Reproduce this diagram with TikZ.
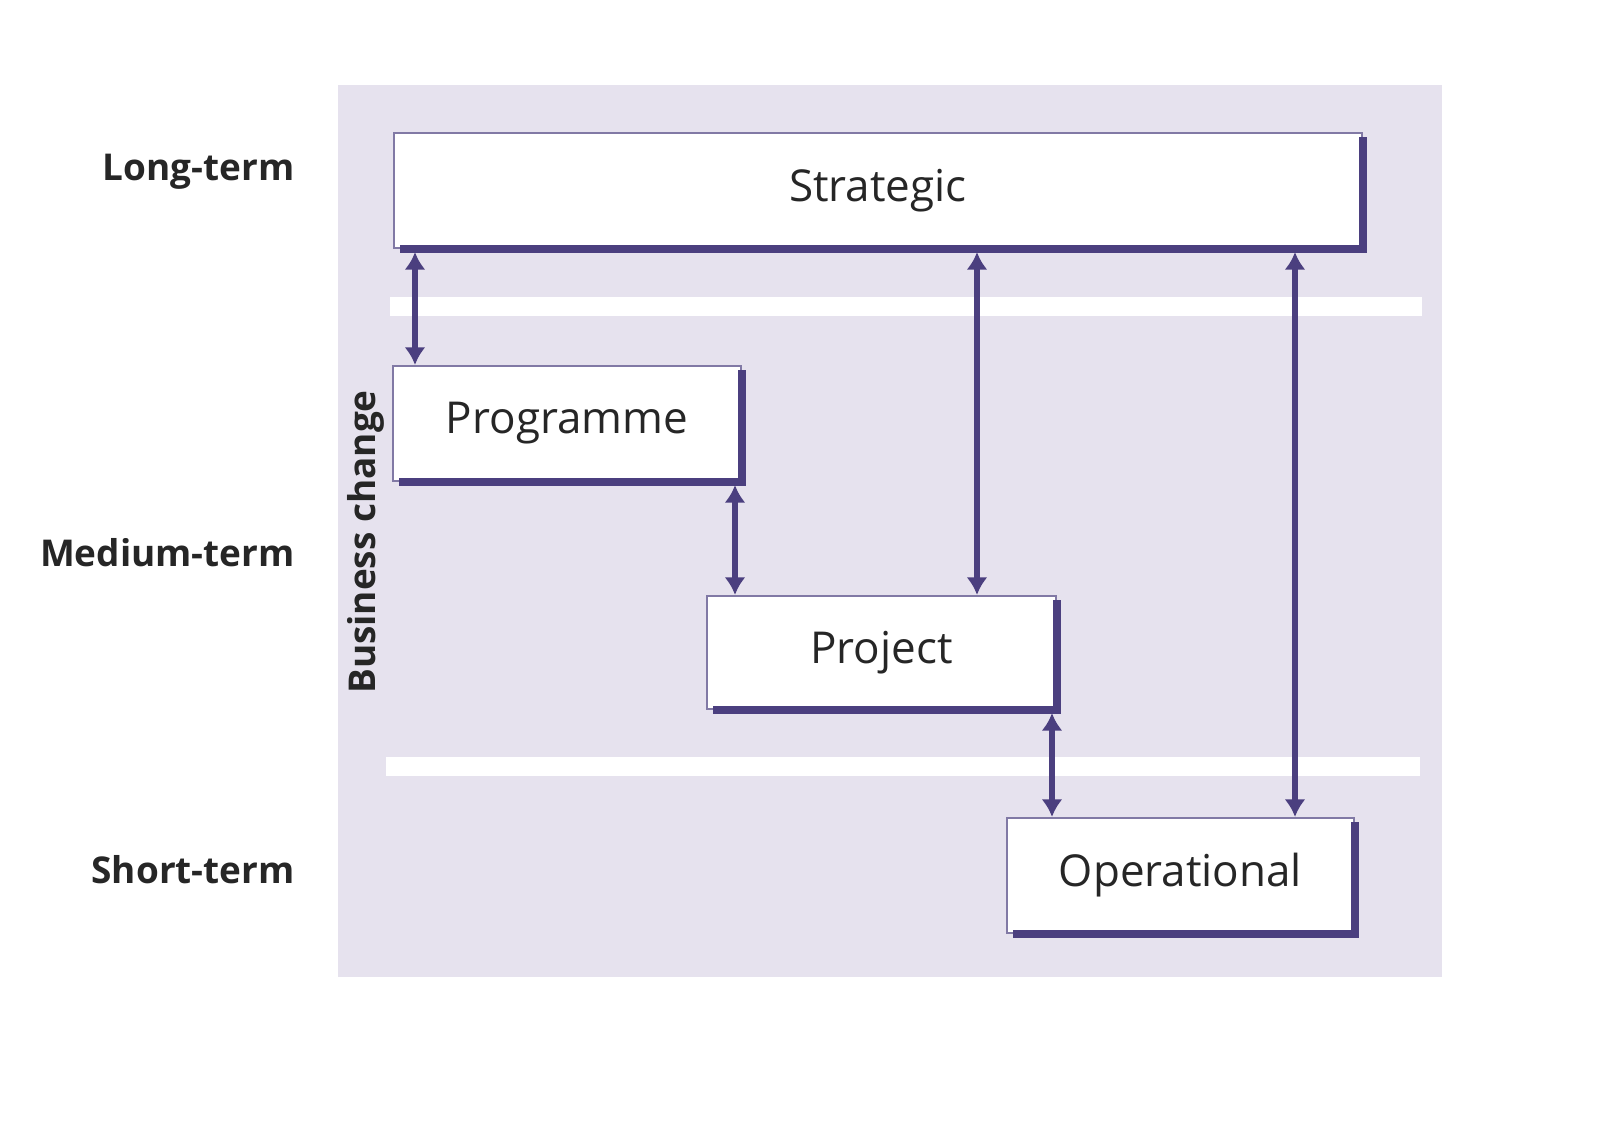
\documentclass[tikz,border=0pt]{standalone}
\usepackage{fontspec}
\setmainfont{Open Sans}
\usetikzlibrary{arrows.meta}
\definecolor{bg}{HTML}{E6E2EE}
\definecolor{pur}{HTML}{4B3F7F}
\begin{document}
\begin{tikzpicture}[x=0.01cm,y=-0.01cm,
 box/.style={draw=pur!70,line width=0.6pt,fill=white,inner sep=0pt,font=\fontsize{12.5}{15}\selectfont,text=black!85},
 lbl/.style={anchor=east,font=\fontsize{10.5}{13}\selectfont\bfseries,text=black!85},
 arr/.style={draw=pur,line width=1.8pt,{Latex[length=5pt,width=6pt]}-{Latex[length=5pt,width=6pt]}}]
\useasboundingbox (0,0) rectangle (1600,1127);
\fill[bg] (338,85) rectangle (1442,977);
\fill[white] (390,297) rectangle (1422,316);
\fill[white] (386,757) rectangle (1420,776);
\newcommand{\mybox}[8]{%
 \node[box,minimum width=#7cm,minimum height=#8cm] (#1) at ({(#2+#4)/2},{(#3+#5)/2}) {#6};
 \draw[pur,line width=2.2pt] (#2+6,#5+1) -- (#4+1,#5+1) -- (#4+1,#3+4);}
\mybox{s}{394}{133}{1362}{248}{Strategic}{9.68}{1.15}
\mybox{pg}{393}{366}{741}{481}{Programme}{3.48}{1.15}
\mybox{pj}{707}{596}{1056}{709}{Project}{3.49}{1.13}
\mybox{op}{1007}{818}{1354}{933}{Operational}{3.47}{1.15}
\draw[arr] (s.south -| 415,0) ++(0,3) -- (pg.north -| 415,0);
\draw[arr] (pg.south -| 735,0) ++(0,3) -- (pj.north -| 735,0);
\draw[arr] (s.south -| 977,0) ++(0,3) -- (pj.north -| 977,0);
\draw[arr] (pj.south -| 1052,0) ++(0,3) -- (op.north -| 1052,0);
\draw[arr] (s.south -| 1295,0) ++(0,3) -- (op.north -| 1295,0);
\node[lbl] (lt) at (307,172) {Long-term};
\node[lbl] (mt) at (307,553) {Medium-term};
\node[lbl] (st) at (307,870) {Short-term};
\node[rotate=90,font=\fontsize{10.5}{13}\selectfont\bfseries,text=black!85] (bc) at (366,542) {Business change};
\end{tikzpicture}
\end{document}
